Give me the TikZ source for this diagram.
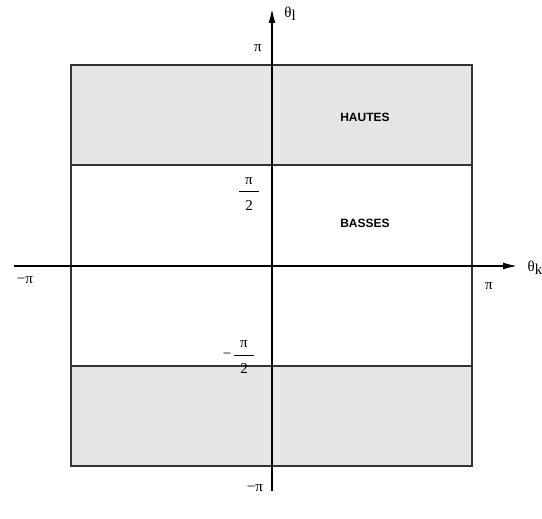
\documentclass[tikz,border=0pt]{standalone}
\usepackage{fontspec}
\setmainfont{Liberation Serif}
\newfontfamily\hv{Liberation Sans}
\usetikzlibrary{arrows.meta}
\begin{document}
\begin{tikzpicture}[x=1pt,y=-1pt,
  lbl/.style={font=\fontsize{15}{17}\selectfont, inner sep=0pt},
  zone/.style={font=\hv\bfseries\fontsize{12}{14}\selectfont, inner sep=0pt},
  axis/.style={line width=1.4pt, -{Latex[length=14pt,width=7pt]}},
  edge/.style={draw=black!80, line width=1.3pt}]
\useasboundingbox (0,0) rectangle (542,519);
% shaded bands
\fill[black!10] (71,65) rectangle (472,165);
\fill[black!10] (71,366) rectangle (472,466);
% square and band lines
\draw[edge] (71,65) rectangle (472,466);
\draw[edge] (71,165) -- (472,165);
\draw[edge] (71,366) -- (472,366);
% axes
\coordinate (xs) at (14,266);
\coordinate (xe) at (517,266);
\coordinate (ys) at (272,491);
\coordinate (ye) at (272,9);
\draw[axis] (xs) -- (xe);
\draw[axis] (ys) -- (ye);
% axis labels
\node[lbl] (thl) at (290,14) {θ\raisebox{-0.5ex}{l}};
\node[lbl] (thk) at (535,268) {θ\raisebox{-0.5ex}{k}};
% tick labels
\node[lbl] (piT) at (258,48) {π};
\node[lbl] (piR) at (489,286) {π};
\node[lbl] (mpiL) at (25,280) {−π};
\node[lbl] (mpiB) at (255,488) {−π};
\node[lbl] (hn) at (249,181) {π};
\draw[line width=1pt] (239,192) -- (259,192);
\node[lbl] (hd) at (249,206) {2};
\node[lbl] (mhn) at (244,344) {π};
\draw[line width=1pt] (234,355) -- (254,355);
\node[lbl] (mhd) at (244,369) {2};
\node[lbl] (mhm) at (227,356) {−};
% zone labels
\node[zone] (hautes) at (365,117) {HAUTES};
\node[zone] (basses) at (365,223) {BASSES};
\end{tikzpicture}
\end{document}
